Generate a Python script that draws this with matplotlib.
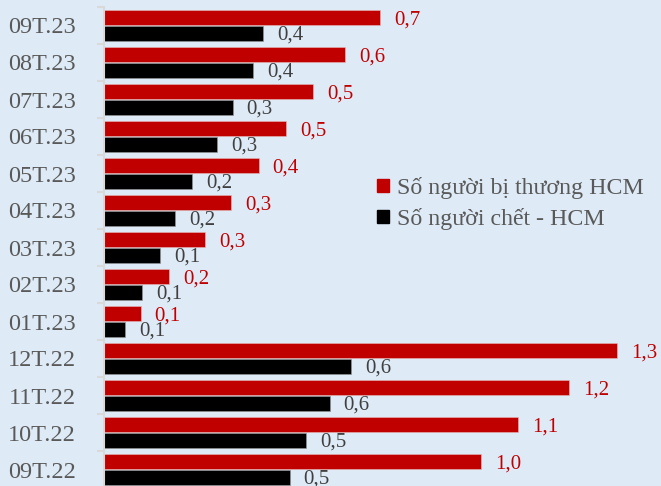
import matplotlib
matplotlib.use("Agg")
import matplotlib.pyplot as plt
from matplotlib.patches import Patch
import numpy as np

# Monthly figures, bottom-to-top order on the chart
months = ["09T.22", "10T.22", "11T.22", "12T.22", "01T.23", "02T.23", "03T.23",
          "04T.23", "05T.23", "06T.23", "07T.23", "08T.23", "09T.23"]
injured = [0.972, 1.067, 1.198, 1.322, 0.095, 0.168, 0.26,
           0.327, 0.399, 0.469, 0.539, 0.621, 0.711]
deaths = [0.479, 0.521, 0.582, 0.637, 0.054, 0.098, 0.144,
          0.183, 0.227, 0.291, 0.332, 0.384, 0.41]
series_names = ["Số người bị thương HCM", "Số người chết - HCM"]

BG = "#DEEBF7"
RED = "#C00000"
BLACK = "#000000"
GRID_GRAY = "#D9D9D9"
TEXT_GRAY = "#595959"
FONT = "Liberation Serif"

W, H = 661, 486
fig = plt.figure(figsize=(W / 100, H / 100), dpi=100, facecolor=BG)

# axes geometry in pixels
left_px, top_px, row_px, x_scale = 104, 7, 37.0, 388.0
xmax = 1.5
n = len(months)
ax_h = n * row_px
ax = fig.add_axes([left_px / W, (H - top_px - ax_h) / H,
                   xmax * x_scale / W, ax_h / H])
ax.set_facecolor(BG)

y = np.arange(n)
bh = 0.41
off = 0.215
ax.barh(y + off, injured, height=bh, color=RED, edgecolor="#E6B8B8", linewidth=0.4, zorder=2)
ax.barh(y - off, deaths, height=bh, color=BLACK, edgecolor="#9A9A9A", linewidth=0.4, zorder=2)

ax.set_xlim(0, xmax)
ax.set_ylim(-0.5, n - 0.5)


def fmt(v):
    return f"{v:.1f}".replace(".", ",")


for yi, v in zip(y, injured):
    ax.annotate(fmt(v), (v, yi + off), xytext=(10, -1.5), textcoords="offset points",
                ha="left", va="center", color=RED, fontsize=15, family=FONT,
                annotation_clip=False)
for yi, v in zip(y, deaths):
    ax.annotate(fmt(v), (v, yi - off), xytext=(10, -1.5), textcoords="offset points",
                ha="left", va="center", color="#404040", fontsize=15, family=FONT,
                annotation_clip=False)

# category axis: boundary ticks, labels centred between them
ax.set_yticks(np.arange(-0.5, n, 1.0))
ax.set_yticklabels([])
ax.tick_params(axis="y", which="major", length=5, width=1.5, color=GRID_GRAY, direction="out")
ax.set_yticks(y, minor=True)
ax.set_yticklabels(months, minor=True, family=FONT, fontsize=17.5, color=TEXT_GRAY)
ax.tick_params(axis="y", which="minor", length=0, pad=20.5)
ax.xaxis.set_visible(False)
for s in ["top", "right", "bottom"]:
    ax.spines[s].set_visible(False)
ax.spines["left"].set_color(GRID_GRAY)
ax.spines["left"].set_linewidth(1.5)

handles = [Patch(facecolor=RED, edgecolor=RED), Patch(facecolor=BLACK, edgecolor=BLACK)]
fig.legend(handles, series_names, loc="upper left",
           bbox_to_anchor=(377 / W, 1 - 177 / H), frameon=False,
           prop={"family": FONT, "size": 17.2}, labelcolor=TEXT_GRAY,
           handlelength=0.5, handleheight=0.5, handletextpad=0.32,
           labelspacing=0.38, borderaxespad=0, borderpad=0)

fig.savefig("out.png", dpi=100, facecolor=BG)
